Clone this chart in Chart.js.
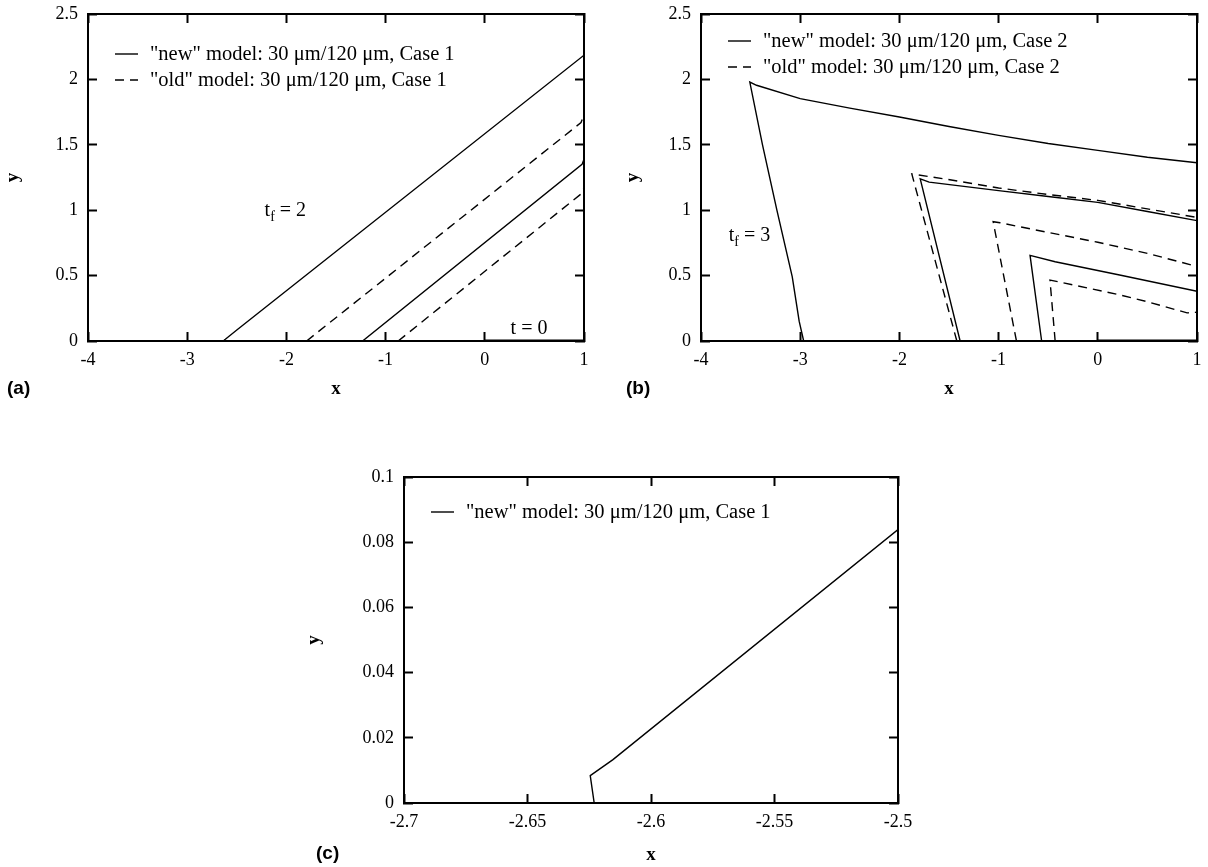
<!DOCTYPE html>
<html><head><meta charset="utf-8">
<script src="https://cdn.jsdelivr.net/npm/chart.js@4.4.1/dist/chart.umd.min.js"></script>
<style>
html,body{margin:0;padding:0;background:#fff;width:1208px;height:867px;overflow:hidden;}
canvas{position:absolute;}
.plab{position:absolute;font:bold 19px "Liberation Sans",Arial,sans-serif;line-height:20px;color:#000;}
</style></head><body>
<canvas id="ca" width="600" height="400" style="left:0px;top:0px"></canvas>
<canvas id="cb" width="604" height="400" style="left:604px;top:0px"></canvas>
<canvas id="cc" width="620" height="427" style="left:300px;top:440px"></canvas>
<div class="plab" style="left:7px;top:378px">(a)</div>
<div class="plab" style="left:626px;top:378px">(b)</div>
<div class="plab" style="left:316px;top:843px">(c)</div>
<script>
// ---------- data ----------
// Panel (a): Case 1
const aNewT2X = [-2.623, -2.6246, -2.6154, -2.5, 1];
const aNewT2Y = [0, 0.0084, 0.0133, 0.0839, 2.185];
const aOldT2X = [-1.796, 0.97, 1];
const aOldT2Y = [0, 1.67, 1.73];
const aNewT1X = [-1.232, 0.98, 1];
const aNewT1Y = [0, 1.35, 1.39];
const aOldT1X = [-0.873, 0.98, 1];
const aOldT1Y = [0, 1.13, 1.17];
const t0X = [0, 1];
const t0Y = [0, 0];
// Panel (b): Case 2
const bNew3X = [-2.965, -3.01, -3.08, -3.235, -3.38, -3.508, -3.44, -3.0, -2.5, -2.0, -1.5, -1.0, -0.5, 0, 0.5, 1];
const bNew3Y = [0, 0.15, 0.49, 1.0, 1.5, 1.98, 1.955, 1.853, 1.78, 1.713, 1.64, 1.572, 1.51, 1.457, 1.405, 1.363];
const bOld2X = [-1.421, -1.875, -1.55, -1.0, -0.5, 0, 0.5, 1];
const bOld2Y = [0, 1.277, 1.24, 1.17, 1.12, 1.075, 1.01, 0.945];
const bNew2X = [-1.388, -1.79, -1.7, -1.0, -0.5, 0, 0.5, 1];
const bNew2Y = [0, 1.239, 1.215, 1.15, 1.105, 1.06, 0.99, 0.92];
const bOld1X = [-0.82, -1.055, -0.986, -0.5, 0, 0.5, 1];
const bOld1Y = [0, 0.912, 0.904, 0.83, 0.755, 0.67, 0.57];
const bNew1X = [-0.566, -0.683, -0.43, 0.22, 1];
const bNew1Y = [0, 0.655, 0.606, 0.505, 0.38];
const bOld0X = [-0.43, -0.482, 0.224, 0.5, 0.9, 1];
const bOld0Y = [0, 0.466, 0.352, 0.3, 0.215, 0.22];
// Panel (c): zoom of Case 1 front
const cNewX = [-2.623, -2.6246, -2.6154, -2.5];
const cNewY = [0, 0.0084, 0.0133, 0.0839];

// ticks
const abXTicks = [-4, -3, -2, -1, 0, 1];
const abXLabels = ['-4', '-3', '-2', '-1', '0', '1'];
const abYTicks = [0, 0.5, 1, 1.5, 2, 2.5];
const abYLabels = ['0', '0.5', '1', '1.5', '2', '2.5'];
const cXTicks = [-2.7, -2.65, -2.6, -2.55, -2.5];
const cXLabels = ['-2.7', '-2.65', '-2.6', '-2.55', '-2.5'];
const cYTicks = [0, 0.02, 0.04, 0.06, 0.08, 0.1];
const cYLabels = ['0', '0.02', '0.04', '0.06', '0.08', '0.1'];

// legend texts
const legA = ['"new" model: 30 \u03bcm/120 \u03bcm, Case 1', '"old" model: 30 \u03bcm/120 \u03bcm, Case 1'];
const legB = ['"new" model: 30 \u03bcm/120 \u03bcm, Case 2', '"old" model: 30 \u03bcm/120 \u03bcm, Case 2'];
const legC = ['"new" model: 30 \u03bcm/120 \u03bcm, Case 1'];

// ---------- helpers ----------
const SERIF = '"Liberation Serif","Times New Roman",serif';
const pts = (xs, ys) => xs.map((x, i) => ({x: x, y: ys[i]}));
const DASH = [9, 6];
function solid(label, xs, ys, inLegend, w) {
  return {label: label, data: pts(xs, ys), showLine: true, borderColor: '#000', backgroundColor: '#000',
    borderWidth: w || 1.4, pointRadius: 0, fill: false, tension: 0, inLegend: !!inLegend};
}
function dashed(label, xs, ys, inLegend) {
  const d = solid(label, xs, ys, inLegend);
  d.borderDash = DASH;
  return d;
}

function mkScales(xt, xl, yt, yl, xmin, xmax, ymin, ymax, yWidth, xHeight, yTitlePad, xTitlePad) {
  const tickFont = {family: SERIF, size: 18};
  const titleFont = {family: SERIF, size: 19, weight: 'bold'};
  const grid = {display: true, drawOnChartArea: false, drawTicks: true, tickLength: -9, tickWidth: 2, tickColor: '#000'};
  const border = {display: true, color: '#000', width: 2};
  const setT = (vals) => (s) => { s.ticks = vals.map(v => ({value: v})); };
  const noPad = (s) => { s.paddingTop = 0; s.paddingBottom = 0; s.paddingLeft = 0; s.paddingRight = 0; };
  return {
    x: {type: 'linear', position: 'bottom', min: xmin, max: xmax, grid: grid, border: border,
      afterBuildTicks: setT(xt),
      ticks: {font: tickFont, color: '#000', padding: 17, maxRotation: 0, autoSkip: false, callback: (v, i) => xl[i]},
      title: {display: true, text: 'x', font: titleFont, color: '#000', padding: {top: 0, bottom: xTitlePad}},
      afterFit: s => { s.height = xHeight; noPad(s); }},
    x2: {type: 'linear', position: 'top', min: xmin, max: xmax, grid: grid, border: border,
      afterBuildTicks: setT(xt), ticks: {display: false}, afterFit: s => { s.height = 0; noPad(s); }},
    y: {type: 'linear', position: 'left', min: ymin, max: ymax, grid: grid, border: border,
      afterBuildTicks: setT(yt),
      ticks: {font: tickFont, color: '#000', padding: 19, autoSkip: false, callback: (v, i) => yl[i]},
      title: {display: true, text: 'y', font: titleFont, color: '#000', padding: {top: yTitlePad, bottom: 0}},
      afterFit: s => { s.width = yWidth; noPad(s); }},
    y2: {type: 'linear', position: 'right', min: ymin, max: ymax, grid: grid, border: border,
      afterBuildTicks: setT(yt), ticks: {display: false}, afterFit: s => { s.width = 0; noPad(s); }}
  };
}

// inline legend inside plot area
const inlineLegend = {
  id: 'inlineLegend',
  afterDraw(chart, args, o) {
    const {ctx, chartArea} = chart;
    const items = chart.data.datasets.filter(d => d.inLegend);
    ctx.save();
    ctx.font = o.size + 'px ' + SERIF;
    ctx.textBaseline = 'middle';
    ctx.textAlign = 'left';
    items.forEach((d, i) => {
      const y = chartArea.top + o.y0 + i * o.dy;
      ctx.strokeStyle = '#000';
      ctx.lineWidth = d.borderWidth;
      ctx.setLineDash(d.borderDash || []);
      ctx.beginPath();
      ctx.moveTo(chartArea.left + o.x0, y);
      ctx.lineTo(chartArea.left + o.x1, y);
      ctx.stroke();
      ctx.setLineDash([]);
      ctx.fillStyle = '#000';
      ctx.fillText(d.label, chartArea.left + o.tx, y + 1);
    });
    ctx.restore();
  }
};
// text notes at data coordinates (t_f = 2 etc.)
const notes = {
  id: 'notes',
  afterDraw(chart, args, o) {
    if (!o.items) return;
    const {ctx, scales} = chart;
    ctx.save();
    ctx.fillStyle = '#000';
    ctx.textBaseline = 'alphabetic';
    ctx.textAlign = 'left';
    o.items.forEach(n => {
      let x = scales.x.getPixelForValue(n.x);
      const y = scales.y.getPixelForValue(n.y) + 6;
      ctx.font = '20px ' + SERIF;
      ctx.fillText(n.main, x, y);
      x += ctx.measureText(n.main).width;
      if (n.sub) {
        ctx.font = '14px ' + SERIF;
        ctx.fillText(n.sub, x, y + 5);
        x += ctx.measureText(n.sub).width;
      }
      ctx.font = '20px ' + SERIF;
      ctx.fillText(n.tail, x, y);
    });
    ctx.restore();
  }
};

function mkChart(id, datasets, scales, padding, legendOpts, noteItems) {
  return new Chart(document.getElementById(id), {
    type: 'scatter',
    data: {datasets: datasets},
    options: {
      responsive: false, animation: false, devicePixelRatio: 1, events: [],
      layout: {padding: padding, autoPadding: false},
      scales: scales,
      plugins: {legend: {display: false}, tooltip: {enabled: false},
        inlineLegend: legendOpts, notes: {items: noteItems}}
    },
    plugins: [inlineLegend, notes]
  });
}

// ---------- panel (a) ----------
mkChart('ca', [
  solid(legA[0], aNewT2X, aNewT2Y, true),
  dashed(legA[1], aOldT2X, aOldT2Y, true),
  solid('new t1', aNewT1X, aNewT1Y),
  dashed('old t1', aOldT1X, aOldT1Y),
  solid('t = 0', t0X, t0Y, false, 3)
], mkScales(abXTicks, abXLabels, abYTicks, abYLabels, -4, 1, 0, 2.5, 88, 59, 2, 0),
  {left: 0, top: 14, right: 16, bottom: 0},
  {size: 20.5, x0: 27, x1: 50, tx: 62, y0: 40, dy: 26},
  [{x: -2.22, y: 1.0, main: 't', sub: 'f', tail: ' = 2'}, {x: 0.26, y: 0.1, main: 't = 0', tail: ''}]);

// ---------- panel (b) ----------
mkChart('cb', [
  solid(legB[0], bNew3X, bNew3Y, true),
  dashed(legB[1], bOld2X, bOld2Y, true),
  solid('new 2', bNew2X, bNew2Y),
  dashed('old 1', bOld1X, bOld1Y),
  solid('new 1', bNew1X, bNew1Y),
  dashed('old 0', bOld0X, bOld0Y),
  solid('t = 0', t0X, t0Y, false, 3)
], mkScales(abXTicks, abXLabels, abYTicks, abYLabels, -4, 1, 0, 2.5, 97, 59, 18, 0),
  {left: 0, top: 14, right: 11, bottom: 0},
  {size: 20.5, x0: 27, x1: 50, tx: 62, y0: 27, dy: 26},
  [{x: -3.72, y: 0.81, main: 't', sub: 'f', tail: ' = 3'}]);

// ---------- panel (c) ----------
mkChart('cc', [
  solid(legC[0], cNewX, cNewY, true)
], mkScales(cXTicks, cXLabels, cYTicks, cYLabels, -2.7, -2.5, 0, 0.1, 104, 64, 3, 1),
  {left: 0, top: 37, right: 22, bottom: 0},
  {size: 20.5, x0: 27, x1: 50, tx: 62, y0: 35, dy: 26},
  []);
</script>
</body></html>
